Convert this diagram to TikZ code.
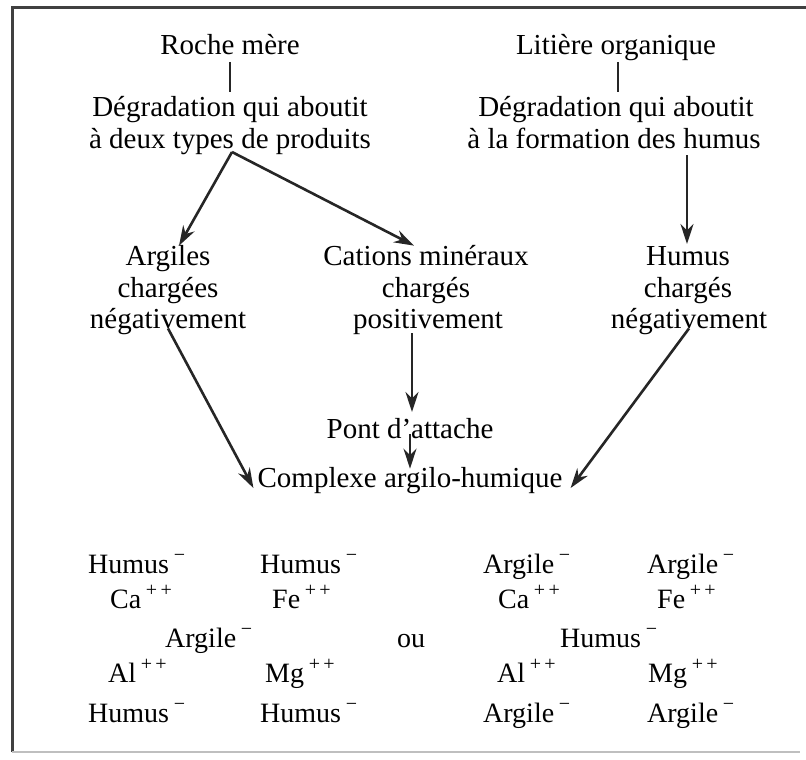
\documentclass[tikz,border=0pt]{standalone}
\usepackage{fontspec}
\setmainfont{Liberation Serif}
\usetikzlibrary{arrows.meta}
\newcommand{\mns}{\,\raisebox{0.42em}{\fontsize{20}{20}\selectfont −}}
\newcommand{\pls}{\,\raisebox{0.42em}{\fontsize{20}{20}\selectfont +\,+}}
\begin{document}
\begin{tikzpicture}[x=1pt,y=-1pt,
  txt/.style={inner sep=0pt,anchor=base,font=\fontsize{29}{32}\selectfont},
  ion/.style={inner sep=0pt,anchor=base west,font=\fontsize{28}{32}\selectfont},
  arr/.style={line width=2.6pt,black!85,-{Stealth[length=20pt,width=13pt]}},
  ln/.style={line width=2.4pt,black!85},
  frame/.style={line width=3pt,black!75}]
\useasboundingbox (0,0) rectangle (806,760);
% frame
\draw[frame] (12,752) -- (12,8) -- (806,8);
\draw[line width=1.5pt,black!25] (12,752) -- (800,752);
% top left column
\node[txt] (roche) at (230,55) {Roche mère};
\node[txt] (degA1) at (230,116) {Dégradation qui aboutit};
\node[txt] (degA2) at (230,148) {à deux types de produits};
% top right column
\node[txt] (lit) at (616,55) {Litière organique};
\node[txt] (degB1) at (616,116) {Dégradation qui aboutit};
\node[txt] (degB2) at (614,148) {à la formation des humus};
% middle row
\node[txt] (arg1) at (168,265) {Argiles};
\node[txt] (arg2) at (168,297) {chargées};
\node[txt] (arg3) at (168,328) {négativement};
\node[txt] (cat1) at (426,265) {Cations minéraux};
\node[txt] (cat2) at (426,297) {chargés};
\node[txt] (cat3) at (428,328) {positivement};
\node[txt] (hum1) at (688,265) {Humus};
\node[txt] (hum2) at (688,297) {chargés};
\node[txt] (hum3) at (689,328) {négativement};
% bottom
\node[txt] (pont) at (410,438) {Pont d’attache};
\node[txt] (cplx) at (410,487) {Complexe argilo-humique};
% connectors
\draw[ln] (230,62) coordinate (r0) -- (230,92) coordinate (r1);
\draw[ln] (618,62) coordinate (l0) -- (618,92) coordinate (l1);
\coordinate (fork) at (232,152);
\coordinate (forkB) at (687,155);
\coordinate (humtop) at (687,244);
\coordinate (catdown) at (412,333);
\coordinate (pontup) at (412,412);
\draw[arr] (fork) -- ([xshift=11pt,yshift=-1pt]arg1.north);
\draw[arr] (fork) -- ([xshift=-12pt,yshift=-1pt]cat1.north);
\draw[arr] (forkB) -- (humtop);
\draw[arr] ([yshift=6pt]arg3.south) -- ([xshift=-4pt,yshift=-8pt]cplx.west);
\draw[arr] (catdown) -- (pontup);
\draw[arr] ([yshift=4pt]pont.south) -- ([yshift=-2pt]cplx.north);
\draw[arr] ([yshift=6pt]hum3.south) -- ([xshift=8pt,yshift=-8pt]cplx.east);
% ion arrangements
\node[ion] (a11) at (88,573) {Humus\mns};
\node[ion] (a12) at (260,573) {Humus\mns};
\node[ion] (b11) at (483,573) {Argile\mns};
\node[ion] (b12) at (647,573) {Argile\mns};
\node[ion] (a21) at (110,608) {Ca\pls};
\node[ion] (a22) at (272,608) {Fe\pls};
\node[ion] (b21) at (498,608) {Ca\pls};
\node[ion] (b22) at (657,608) {Fe\pls};
\node[ion] (a31) at (165,647) {Argile\mns};
\node[ion] (ou) at (397,647) {ou};
\node[ion] (b31) at (560,647) {Humus\mns};
\node[ion] (a41) at (108,682) {Al\pls};
\node[ion] (a42) at (265,682) {Mg\pls};
\node[ion] (b41) at (497,682) {Al\pls};
\node[ion] (b42) at (648,682) {Mg\pls};
\node[ion] (a51) at (88,722) {Humus\mns};
\node[ion] (a52) at (260,722) {Humus\mns};
\node[ion] (b51) at (483,722) {Argile\mns};
\node[ion] (b52) at (647,722) {Argile\mns};
\end{tikzpicture}
\end{document}
